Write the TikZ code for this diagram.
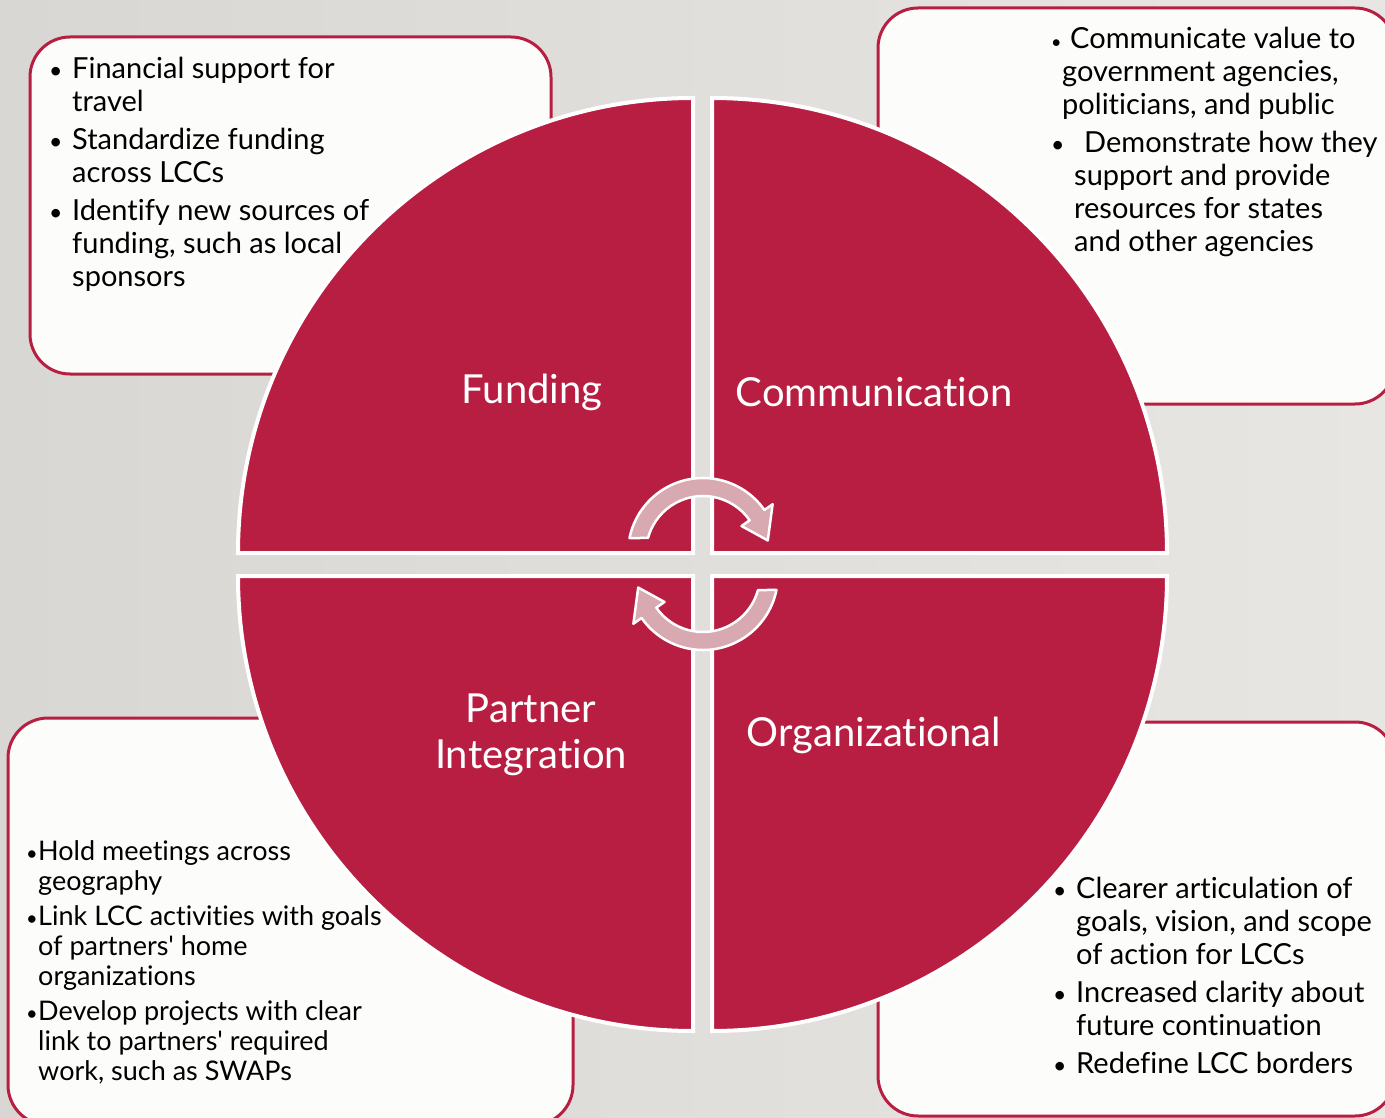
\documentclass[tikz,border=0pt]{standalone}
\usepackage{fontspec}
\setmainfont{Lato}[Ligatures=NoCommon]
\usetikzlibrary{calc,positioning}
\definecolor{crimson}{HTML}{B81E41}
\definecolor{slideL}{HTML}{D9D7D3}
\definecolor{slideR}{HTML}{E8E6E3}
\definecolor{notefill}{HTML}{FCFCFB}
\definecolor{cyclepink}{HTML}{D8A9B1}
\newcommand{\dotmark}{{\fontsize{23}{23}\selectfont •}}
\newcommand{\apos}{\textquotesingle}

\begin{document}
\begin{tikzpicture}[
    x=1pt, y=-1pt,
    note box/.style={draw=crimson, line width=3pt, fill=notefill, rounded corners=40pt},
    quarter/.style={fill=crimson, draw=white, line width=4pt},
    cycle arrow/.style={fill=cyclepink, draw=white, line width=2.5pt, line join=round},
    title node/.style={text=white, font=\fontsize{40}{46}\selectfont, align=center, inner sep=0pt},
    list node/.style={text=black, font=\fontsize{29}{33}\selectfont, inner sep=0pt, anchor=base west}
    ]

    % slide background
    \useasboundingbox (0,0) rectangle (1385,1118);
    \shade[left color=slideL, right color=slideR] (0,0) rectangle (1385,1118);

    % note boxes
    \draw[note box] (30,37) rectangle (551,374);
    \draw[note box] (878,8) rectangle (1395,404);
    \draw[note box] (8,718) rectangle (573,1125);
    \draw[note box] (878,722) rectangle (1395,1116);

    \node[list node] (fundtxt) at (49,79) {\begin{tabular}[t]{@{}p{23pt}@{}l@{}}
      \dotmark & Financial support for\\
        & travel\\[5pt]
      \dotmark & Standardize funding\\
        & across LCCs\\[5pt]
      \dotmark & Identify new sources of\\
        & funding, such as local\\
        & sponsors
    \end{tabular}};

    \node[list node] (commtxt) at (1051,49) {\begin{tabular}[t]{@{}l@{}}
      \makebox[19pt][l]{\fontsize{18}{33}\selectfont •}Communicate value to\\
      \hspace*{11pt}government agencies,\\
      \hspace*{11pt}politicians, and public\\[5pt]
      \makebox[33pt][l]{\dotmark}Demonstrate how they\\
      \hspace*{23pt}support and provide\\
      \hspace*{23pt}resources for states\\
      \hspace*{23pt}and other agencies
    \end{tabular}};

    \node[list node, font=\fontsize{27}{30}\selectfont] (parttxt) at (26,860) {\begin{tabular}[t]{@{}p{12pt}@{}l@{}}
      {\fontsize{20}{20}\selectfont •} & Hold meetings across\\
        & geography\\[5pt]
      {\fontsize{20}{20}\selectfont •} & Link LCC activities with goals\\
        & of partners\apos{} home\\
        & organizations\\[5pt]
      {\fontsize{20}{20}\selectfont •} & Develop projects with clear\\
        & link to partners\apos{} required\\
        & work, such as SWAPs
    \end{tabular}};

    \node[list node] (orgtxt) at (1053,898) {\begin{tabular}[t]{@{}p{23pt}@{}l@{}}
      \dotmark & Clearer articulation of\\
        & goals, vision, and scope\\
        & of action for LCCs\\[5pt]
      \dotmark & Increased clarity about\\
        & future continuation\\[5pt]
      \dotmark & Redefine LCC borders
    \end{tabular}};

    % the four quarters of the circle
    \draw[quarter] (693,553) -- (693,98) arc[start angle=270, end angle=180, radius=455] -- cycle;
    \draw[quarter] (712,553) -- (1167,553) arc[start angle=0, end angle=-90, radius=455] -- cycle;
    \draw[quarter] (693,576) -- (238,576) arc[start angle=180, end angle=90, radius=455] -- cycle;
    \draw[quarter] (712,576) -- (712,1031) arc[start angle=90, end angle=0, radius=455] -- cycle;

    \node[title node] (fund) at (532,392) {Funding};
    \node[title node] (comm) at (874,392) {Communication};
    \node[title node] (part) at (531,735) {Partner\\Integration};
    \node[title node] (org) at (874,735) {Organizational};

    % cycle arrows
    \coordinate (ca) at (703,553);
    \coordinate (cb) at (703,575);
    \draw[cycle arrow] ($(ca)+(191.5:75)$) arc[start angle=191.5, end angle=325, radius=75]
      -- ($(ca)+(325:85)$) -- ($(ca)+(349:66)$) -- ($(ca)+(325:47)$) -- ($(ca)+(325:57)$)
      arc[start angle=325, end angle=195.3, radius=57] -- cycle;
    \draw[cycle arrow] ($(cb)+(11.5:75)$) arc[start angle=11.5, end angle=145, radius=75]
      -- ($(cb)+(145:85)$) -- ($(cb)+(169:66)$) -- ($(cb)+(145:47)$) -- ($(cb)+(145:57)$)
      arc[start angle=145, end angle=15.3, radius=57] -- cycle;
\end{tikzpicture}
\end{document}
